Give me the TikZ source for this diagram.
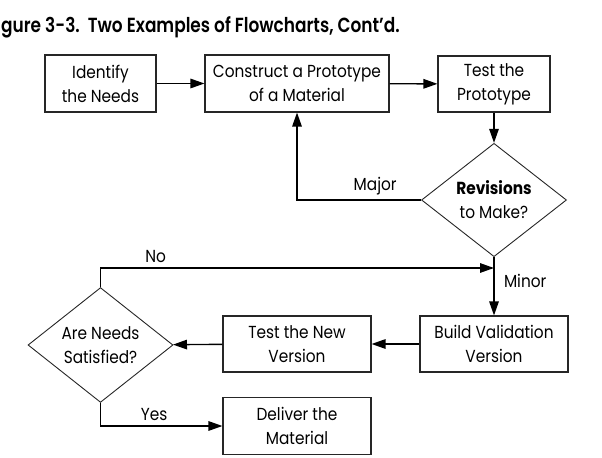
\documentclass[tikz,border=0pt]{standalone}
\usepackage{fontspec}
\setmainfont{Poppins}[FakeStretch=0.88]
\IfFontExistsTF{Poppins SemiBold}
  {\newfontfamily\titlefont{Poppins SemiBold}[FakeStretch=0.83]}
  {\newfontfamily\titlefont{Poppins}[FakeStretch=0.84]}
\usetikzlibrary{arrows.meta,positioning,shapes.geometric}
\begin{document}
\begin{tikzpicture}[x=1bp,y=-1bp,font=\fontsize{17.5}{24}\selectfont,
  box/.style={draw=black!85,line width=1.1bp,align=center,inner sep=0pt},
  decision/.style={diamond,draw=black!85,line width=0.9bp,align=center,inner sep=0pt,minimum width=145bp,minimum height=106bp},
  arrow/.style={line width=1.4bp,-{Triangle[length=14bp,width=9.5bp]}}]
\useasboundingbox (0,0) rectangle (602,458);
\node[anchor=base west,inner sep=0pt,font=\fontsize{20.5}{24}\titlefont] (title) at (1,33) {gure 3-3.\ \ Two Examples of Flowcharts, Cont’d.};
\node[box,minimum width=111bp,minimum height=57bp] (needs) at (100.5,83.5) {Identify\\the Needs};
\node[box,minimum width=184bp,minimum height=57bp] (construct) at (297,83.5) {Construct a Prototype\\of a Material};
\node[box,minimum width=112bp,minimum height=56bp] (testproto) at (494,84) {Test the\\Prototype};
\node[decision] (revisions) at (494,200) {\textbf{Revisions}\\to Make?};
\node[box,minimum width=148bp,minimum height=56bp] (build) at (494,344) {Build Validation\\Version};
\node[box,minimum width=148bp,minimum height=56bp] (testnew) at (297,344) {Test the New\\Version};
\node[decision] (satisfied) at (100.5,345) {Are Needs\\Satisfied?};
\node[box,minimum width=148bp,minimum height=57bp] (deliver) at (297,426) {Deliver the\\Material};
\coordinate (join) at (494,268);
\draw[arrow] (needs) -- (construct);
\draw[arrow] (construct) -- (testproto);
\draw[arrow] (testproto) -- (revisions);
\draw[arrow] (revisions.west) -| (construct.south) node[pos=0.185,above=1bp] {Major};
\draw[arrow] (revisions.south) -- (build.north) node[pos=0.4,right=6bp] {Minor};
\draw[arrow] (satisfied.north) |- (join) node[pos=0.57,above=1bp] {No};
\draw[arrow] (satisfied.south) |- (deliver.west) node[pos=0.72,above=1bp] {Yes};
\draw[arrow] (build) -- (testnew);
\draw[arrow] (testnew) -- (satisfied);
\end{tikzpicture}
\end{document}
